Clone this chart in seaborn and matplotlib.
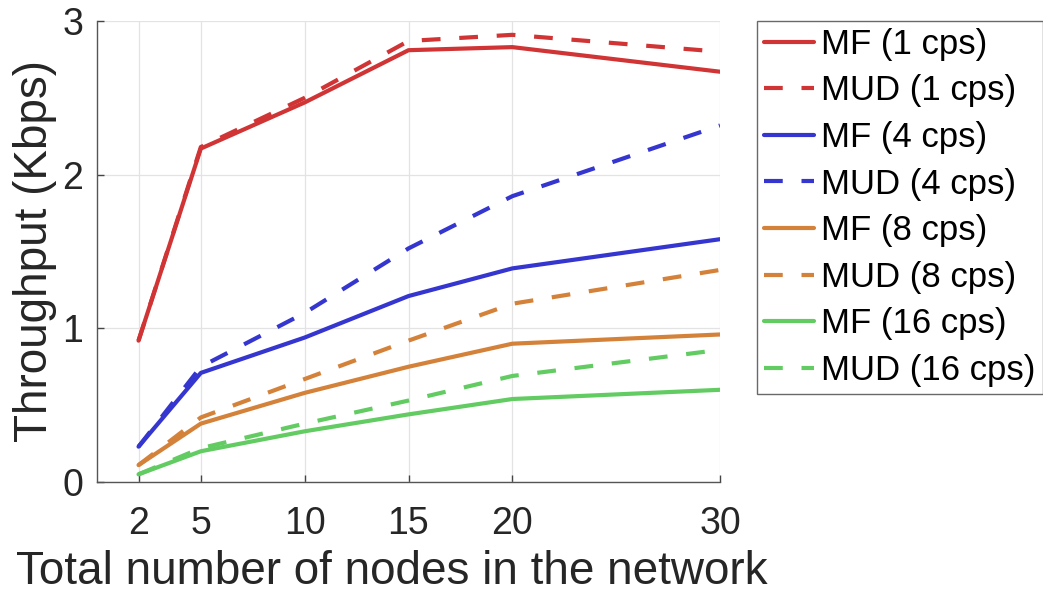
import matplotlib
matplotlib.use("Agg")
import matplotlib.pyplot as plt
import seaborn as sns
import pandas as pd

nodes = [2, 5, 10, 15, 20, 30]
mf_1 = [0.92, 2.17, 2.47, 2.81, 2.83, 2.67]
mud_1 = [0.92, 2.18, 2.50, 2.87, 2.91, 2.80]
mf_4 = [0.23, 0.71, 0.94, 1.21, 1.39, 1.58]
mud_4 = [0.23, 0.75, 1.10, 1.52, 1.86, 2.32]
mf_8 = [0.11, 0.38, 0.58, 0.75, 0.90, 0.96]
mud_8 = [0.11, 0.42, 0.67, 0.92, 1.16, 1.38]
mf_16 = [0.05, 0.20, 0.33, 0.44, 0.54, 0.60]
mud_16 = [0.05, 0.22, 0.38, 0.53, 0.69, 0.86]

series = [
    ("MF (1 cps)", mf_1), ("MUD (1 cps)", mud_1),
    ("MF (4 cps)", mf_4), ("MUD (4 cps)", mud_4),
    ("MF (8 cps)", mf_8), ("MUD (8 cps)", mud_8),
    ("MF (16 cps)", mf_16), ("MUD (16 cps)", mud_16),
]
colors = ["#d03434", "#d03434", "#3535d0", "#3535d0",
          "#d4823a", "#d4823a", "#62cc62", "#62cc62"]

rows = []
for name, vals in series:
    for x, y in zip(nodes, vals):
        rows.append({"nodes": x, "thr": y, "series": name})
df = pd.DataFrame(rows)

sns.set_theme(style="white")
plt.rcParams['font.family'] = ['Liberation Sans', 'DejaVu Sans']

fig = plt.figure(figsize=(10.43, 5.96), dpi=100)
ax = fig.add_axes([97/1043, 1 - 482/596, (720-97)/1043, (482-21)/596])

names = [s[0] for s in series]
palette = dict(zip(names, colors))
dashes = {n: ("" if n.startswith("MF") else (4.5, 4.5)) for n in names}
sns.lineplot(data=df, x="nodes", y="thr", hue="series", style="series",
             hue_order=names, style_order=names, palette=palette,
             dashes=dashes, linewidth=3.0, ax=ax, legend=True)

ax.set_xlim(0, 30)
ax.set_ylim(0, 3)
ax.set_xticks(nodes)
ax.set_yticks([0, 1, 2, 3])
ax.tick_params(axis='both', labelsize=27, direction='in', length=5,
               color='#444444', width=1, bottom=True, left=True,
               labelcolor='#262626')
ax.tick_params(axis='x', pad=17)
ax.tick_params(axis='y', pad=10)
ax.grid(True, color='#e3e3e3', linewidth=0.9)
for s in ['top', 'right']:
    ax.spines[s].set_visible(False)
for s in ['left', 'bottom']:
    ax.spines[s].set_color('#555555')
    ax.spines[s].set_linewidth(1.0)
ax.set_xlabel("Total number of nodes in the network", fontsize=33,
              color='#262626')
ax.xaxis.set_label_coords((392 - 97) / 623, (482 - 572) / 461)
ax.xaxis.label.set_va('center')
ax.set_ylabel("Throughput (Kbps)", fontsize=33, labelpad=4, color='#262626')

handles, labels = ax.get_legend_handles_labels()
leg = ax.legend(handles, labels, loc='upper left',
                bbox_to_anchor=(757/1043, 1 - 21/596), bbox_transform=fig.transFigure,
                fontsize=25, frameon=True, fancybox=False, edgecolor='#444444',
                handlelength=1.45, handletextpad=0.2, borderpad=0.2,
                labelspacing=0.39, borderaxespad=0)
leg.get_frame().set_linewidth(1.0)
for t in leg.get_texts():
    t.set_color('black')

fig.savefig("out.png", dpi=100, facecolor='white')
